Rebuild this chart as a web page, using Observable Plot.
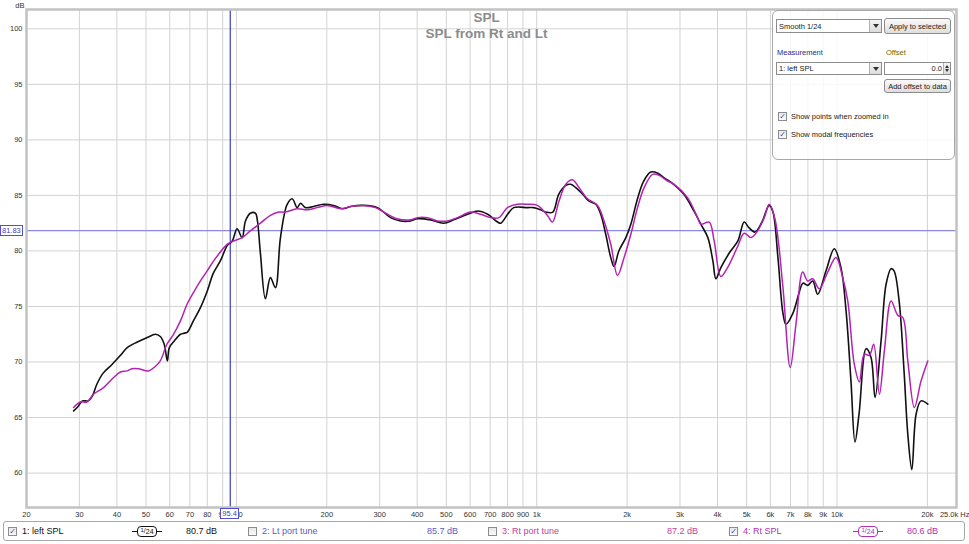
<!DOCTYPE html>
<html><head><meta charset="utf-8">
<script src="https://cdn.jsdelivr.net/npm/d3@7"></script>
<script src="https://cdn.jsdelivr.net/npm/@observablehq/plot@0.6"></script>
<style>
body{margin:0;background:#fff;font-family:"Liberation Sans",Arial,sans-serif;}
#wrap{position:relative;width:969px;height:544px;overflow:hidden;background:#fff;}
#chart{position:absolute;left:0;top:0;}
.abs{position:absolute;}
#panel{left:772px;top:10px;width:181px;height:148px;border:1.5px solid #a8a8a8;border-radius:6px;background:rgba(255,255,255,0.82);font-size:7.5px;color:#222;}
.sel{position:absolute;background:#fff;border:1px solid #8c8c8c;box-sizing:border-box;padding-left:2px;display:flex;align-items:center;}
.arrow{position:absolute;right:0;top:0;bottom:0;width:11px;border-left:1px solid #b0b0b0;background:linear-gradient(#f4f4f4,#dcdcdc);display:flex;align-items:center;justify-content:center;}
.arrow:after{content:"";border-left:3px solid transparent;border-right:3px solid transparent;border-top:4px solid #333;}
.spin{position:absolute;right:0;top:0;bottom:0;width:6px;border-left:1px solid #b0b0b0;background:linear-gradient(#f4f4f4,#dcdcdc);}
.spin:before{content:"";position:absolute;left:1px;top:2px;border-left:2px solid transparent;border-right:2px solid transparent;border-bottom:3px solid #333;}
.spin:after{content:"";position:absolute;left:1px;bottom:2px;border-left:2px solid transparent;border-right:2px solid transparent;border-top:3px solid #333;}
.btn{position:absolute;border:1px solid #8c8c8c;border-radius:3px;background:linear-gradient(#fafafa,#dedede);box-sizing:border-box;display:flex;align-items:center;justify-content:center;}
.cb{position:absolute;width:9px;height:9px;border:1px solid #8c8c8c;background:linear-gradient(#e8e8e8,#fafafa);box-sizing:border-box;font-size:8px;line-height:8px;color:#3050a8;text-align:center;font-family:"DejaVu Sans",sans-serif;}
#legend{left:3px;top:521px;width:962px;height:20px;border:1px solid #a8a8a8;border-radius:3px;font-size:9px;box-sizing:border-box;}
.lt{position:absolute;top:4px;white-space:nowrap;}
.icon{position:absolute;top:4px;height:11px;width:30px;}
.icon .box{position:absolute;left:5px;top:0;width:20px;height:11px;border:1.5px solid currentColor;border-radius:4px;box-sizing:border-box;font-size:7px;line-height:8px;text-align:center;white-space:nowrap;}
.icon .box span{position:relative;}
.icon .w1,.icon .w2{position:absolute;top:5px;width:5px;height:0;border-top:1.5px solid currentColor;}
.icon .w1{left:0}.icon .w2{left:25px}
.clab{position:absolute;background:#fff;border:1px solid #5050d0;color:#4040c0;font-size:7.5px;line-height:9px;padding:0 1px;}
</style></head><body>
<div id="wrap">
<div id="chart"></div>
<div id="panel" class="abs">
  <div class="sel" style="left:3px;top:8px;width:106px;height:14px;">Smooth 1/24<div class="arrow"></div></div>
  <div class="btn" style="left:111px;top:7px;width:67px;height:16px;">Apply to selected</div>
  <div class="abs" style="left:4px;top:37px;color:#2a2a88;">Measurement</div>
  <div class="abs" style="left:113px;top:37px;color:#6a6a00;">Offset</div>
  <div class="sel" style="left:3px;top:51px;width:106px;height:13px;">1: left SPL<div class="arrow"></div></div>
  <div class="sel" style="left:111px;top:51px;width:67px;height:13px;justify-content:flex-end;padding-right:8px;">0.0<div class="spin"></div></div>
  <div class="btn" style="left:111px;top:68px;width:67px;height:14px;">Add offset to data</div>
  <div class="cb" style="left:5px;top:101px;">✓</div>
  <div class="abs" style="left:18px;top:101px;">Show points when zoomed in</div>
  <div class="cb" style="left:5px;top:119px;">✓</div>
  <div class="abs" style="left:18px;top:119px;">Show modal frequencies</div>
</div>
<div id="legend" class="abs">
  <div class="cb" style="left:4px;top:5px;">✓</div>
  <div class="lt" style="left:18px;color:#111;">1: left SPL</div>
  <div class="icon" style="left:128px;color:#111;"><div class="w1"></div><div class="box"><span style="top:-1px;font-size:6px">1</span>/<span style="top:1px">24</span></div><div class="w2"></div></div>
  <div class="lt" style="left:182px;color:#111;">80.7 dB</div>
  <div class="cb" style="left:244px;top:5px;"></div>
  <div class="lt" style="left:258px;color:#5a5ac8;">2: Lt port tune</div>
  <div class="lt" style="left:423px;color:#5a5ac8;">85.7 dB</div>
  <div class="cb" style="left:484px;top:5px;"></div>
  <div class="lt" style="left:498px;color:#c0449c;">3: Rt port tune</div>
  <div class="lt" style="left:663px;color:#c0449c;">87.2 dB</div>
  <div class="cb" style="left:725px;top:5px;">✓</div>
  <div class="lt" style="left:739px;color:#b030b0;">4: Rt SPL</div>
  <div class="icon" style="left:849px;color:#b030b0;"><div class="w1"></div><div class="box"><span style="top:-1px;font-size:6px">1</span>/<span style="top:1px">24</span></div><div class="w2"></div></div>
  <div class="lt" style="left:903px;color:#b030b0;">80.6 dB</div>
</div>
</div>
<script>
// Series 1: left SPL (Hz, dB)
const leftFreq = [28.7,29.7,30.7,32.1,33.1,34.3,36.0,38.6,41.1,43.3,46.8,50.5,53.7,55.8,57.5,58.9,59.8,62.1,65.1,67.1,68.7,71.9,75.9,80.0,83.8,88.4,93.3,96.9,100.5,104.5,107.2,111.3,115.7,117.5,120.2,124.9,129.8,134.9,140.2,147.6,153.4,159.4,163.5,169.8,180.6,195,210.6,225.6,239.9,265,295,326,352,380,401,443,490,529,589,636,687,741,759,800,838,933,977,1031,1072,1131,1184,1250,1298,1349,1423,1490,1573,1634,1698,1765,1810,1877,1981,2058,2171,2274,2399,2532,2651,2797,3090,3337,3522,3715,3861,3951,4105,4399,4677,4909,5089,5329,5623,5948,6120,6358,6607,6761,7135,7472,7704,7987,8299,8624,9190,9795,10310,10720,11130,11480,11840,12500,12980,13390,14020,14570,15140,15490,16100,16720,17210,17750,18340,19050,20060];
const leftDb = [65.6,66.0,66.5,66.5,66.9,68.0,69.0,69.8,70.6,71.3,71.8,72.2,72.5,72.3,71.6,70.1,71.3,71.9,72.5,72.6,72.7,73.7,74.9,76.4,78.0,79.1,80.5,80.9,82.0,81.2,82.7,83.4,83.4,82.7,79.8,75.7,77.6,76.7,81.2,84.2,84.7,83.9,84.3,83.9,84.0,84.2,84.1,83.8,84.0,84.1,83.9,83.0,82.7,82.7,82.9,82.8,82.5,82.8,83.3,83.6,83.3,82.6,82.5,83.3,83.9,83.9,83.9,83.7,83.5,83.5,85.1,85.9,86.0,85.7,85.1,84.5,84.2,83.3,81.5,79.4,78.6,80.0,81.2,82.4,84.8,86.3,87.1,87.0,86.6,86.2,85.1,83.6,82.4,81.2,79.1,77.5,78.5,79.9,80.9,82.6,82.1,81.7,82.6,84.1,83.5,79.4,74.4,73.4,74.4,76.2,77.1,76.9,77.3,76.1,78.2,80.2,78.5,74.6,68.3,62.8,65.3,71.2,70.4,66.8,71.9,77.0,78.4,78.2,75.5,69.2,63.5,60.3,65.3,66.5,66.2];
// Series 4: Rt SPL (Hz, dB)
const rtFreq = [28.7,30.2,31.8,33.4,36.1,39.0,41.1,43.2,44.9,47.1,51.0,53.7,55.8,58.7,61.8,65.1,68.5,72.1,75.9,79.9,84.0,88.4,93.1,97.9,104.5,111.3,120.2,129.8,138.4,145.7,159.4,172.1,185.8,200.5,222.2,239.9,265.7,290.6,309.7,343.3,380.2,400.2,432.2,466.7,503.9,544.0,602.6,650.6,702.6,748.6,798.7,862.4,931.1,1005,1086,1128,1187,1250,1315,1384,1476,1594,1676,1765,1858,1954,2058,2166,2279,2431,2557,2727,2869,3179,3433,3522,3753,3899,4105,4322,4667,4909,5168,5440,5725,5948,6212,6592,6986,7300,7687,7987,8299,8730,9311,9924,10450,10860,11420,11870,12330,12820,13250,13840,14380,15140,15940,16560,17210,18100,19050,20060];
const rtDb = [65.9,66.4,66.4,67.1,67.7,68.6,69.1,69.2,69.4,69.4,69.2,69.6,70.1,71.6,72.5,73.7,75.2,76.3,77.3,78.2,79.1,79.9,80.6,80.9,81.2,81.8,82.5,83.2,83.5,83.5,83.8,83.7,83.9,84.1,83.8,84.0,84.1,83.9,83.5,82.9,82.8,83.0,83.0,82.7,82.7,83.0,83.5,83.3,83.0,83.0,83.9,84.2,84.2,84.1,83.2,82.6,84.5,86.0,86.4,85.7,84.7,84.1,82.7,80.6,77.8,79.4,81.5,83.9,85.7,86.9,86.8,86.3,86.0,84.8,83.0,82.4,82.6,80.9,77.7,78.5,80.4,81.6,81.2,81.8,83.0,84.2,82.9,77.0,69.5,73.4,78.1,77.3,77.5,76.6,78.1,79.4,77.6,75.5,69.8,68.2,70.7,70.6,71.6,67.1,71.0,75.5,74.2,74.0,70.1,65.9,68.3,70.1];
const xTicks = [20,30,40,50,60,70,80,90,100,200,300,400,500,600,700,800,900,1000,2000,3000,4000,5000,6000,7000,8000,9000,10000,20000];
const yTicks = [60,65,70,75,80,85,90,95,100];
const titles = ["SPL","SPL from Rt and Lt"];
const cursorFreq = 95.4, cursorDb = 81.83;
const xMax = 25000;

const left = leftFreq.map((f,i)=>({f, db:leftDb[i]}));
const rt = rtFreq.map((f,i)=>({f, db:rtDb[i]}));
const fmt = f => f < 1000 ? String(f) : (f/1000) + "k";

const plot = Plot.plot({
  width:969, height:520,
  marginLeft:26, marginRight:13, marginTop:9, marginBottom:13,
  style:{fontFamily:"Liberation Sans, Arial, sans-serif", fontSize:"7.5px", color:"#333", background:"transparent", overflow:"visible"},
  x:{type:"log", domain:[20, xMax], axis:null},
  y:{domain:[56.9, 101.74], axis:null},
  marks:[
    Plot.ruleX(xTicks.concat([xMax]), {stroke:"#d3d3d3", strokeWidth:1}),
    Plot.ruleY(yTicks, {stroke:"#d3d3d3", strokeWidth:1}),
    Plot.text([titles[0]], {frameAnchor:"top", dx:-5, dy:8, lineAnchor:"middle", fontSize:13.5, fontWeight:"bold", fill:"#8c8c8c"}),
    Plot.text([titles[1]], {frameAnchor:"top", dx:-5, dy:24, lineAnchor:"middle", fontSize:13.5, fontWeight:"bold", fill:"#8c8c8c"}),
    Plot.ruleY([cursorDb], {stroke:"#8a8ae0", strokeWidth:1.2}),
    Plot.ruleX([cursorFreq], {stroke:"#3c3cc0", strokeWidth:1.2}),
    Plot.line(left, {x:"f", y:"db", stroke:"#111", strokeWidth:1.6, curve:"catmull-rom"}),
    Plot.line(rt, {x:"f", y:"db", stroke:"#b422b4", strokeWidth:1.5, curve:"catmull-rom"}),
    Plot.frame({stroke:"#c2c2c2", strokeWidth:2.5}),
    Plot.text(xTicks, {x:d=>d, text:fmt, frameAnchor:"bottom", lineAnchor:"top", dy:4, fill:"#333"}),
    Plot.text(yTicks, {y:d=>d, text:d=>String(d), frameAnchor:"left", textAnchor:"end", dx:-4, fill:"#333"}),
    Plot.text([{f:xMax, t:"25.0k Hz"}], {x:"f", text:"t", frameAnchor:"bottom", textAnchor:"end", lineAnchor:"top", dx:13, dy:4, fill:"#333"}),
    Plot.text(["dB"], {frameAnchor:"top-left", textAnchor:"end", lineAnchor:"bottom", dx:-2, dy:-2, fill:"#333"})
  ]
});
document.getElementById("chart").appendChild(plot);

// Cursor readout boxes placed via the plot's own scales
const sx = plot.scale("x"), sy = plot.scale("y");
const wrap = document.getElementById("wrap");
const bx = document.createElement("div");
bx.className = "clab"; bx.textContent = String(cursorFreq);
wrap.appendChild(bx);
bx.style.left = (sx.apply(cursorFreq) - bx.offsetWidth/2) + "px";
bx.style.top = "508px";
const by = document.createElement("div");
by.className = "clab"; by.textContent = cursorDb.toFixed(2);
wrap.appendChild(by);
by.style.left = "0px";
by.style.top = (sy.apply(cursorDb) - by.offsetHeight/2) + "px";
</script>
</body></html>
